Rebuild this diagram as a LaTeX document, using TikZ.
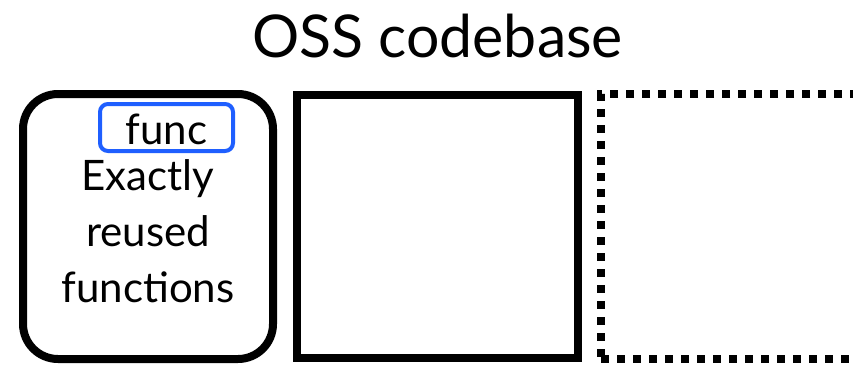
\documentclass[tikz,border=0pt]{standalone}
\usepackage{fontspec}
\setmainfont{Lato}
\definecolor{funcblue}{HTML}{1F5FFF}
\tikzset{
  bigbox/.style={draw=black, line width=8pt, minimum width=#1, inner sep=0pt, outer sep=0pt},
  labeltext/.style={font=\fontsize{42}{56}\selectfont, inner sep=0pt},
  titletext/.style={font=\fontsize{59}{70}\selectfont, inner sep=0pt},
  funcbox/.style={draw=funcblue, line width=4pt, rounded corners=8pt, inner sep=0pt, minimum width=133pt, minimum height=47pt}
}
\begin{document}
\begin{tikzpicture}[x=1pt,y=-1pt]
\useasboundingbox (0,0) rectangle (853,364);
\clip (0,0) rectangle (853,364);
\node[titletext, anchor=base] (title) at (437.5,57) {OSS codebase};
\node[bigbox=250pt, minimum height=265pt, rounded corners=35pt] (exact) at (148,226.5) {};
\node[bigbox=281pt, minimum height=263pt] (mid) at (437.5,226.5) {};
\node[bigbox=300pt, minimum height=265pt, dash pattern=on 8pt off 8pt] (dotted) at (751,226.5) {};
\node[funcbox] (func) at (166.5,127.5) {};
\node[labeltext, anchor=base] (functext) at (166.5,144) {func};
\node[labeltext, align=center, anchor=base] (desc) at (148,302) {Exactly\\reused\\functions};
\end{tikzpicture}
\end{document}
